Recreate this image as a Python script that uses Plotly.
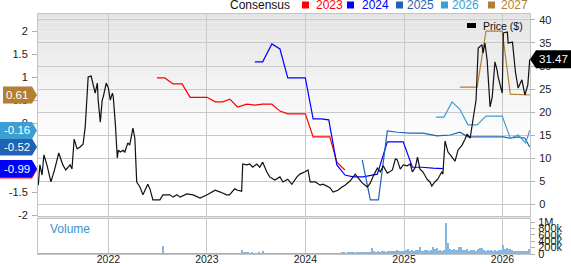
import plotly.graph_objects as go
import pandas as pd

# ---------------- data ----------------
price_dates = [
    "2021-04-16", "2021-04-22", "2021-04-30", "2021-05-07", "2021-05-18", "2021-06-02",
    "2021-06-16", "2021-07-01", "2021-07-16", "2021-07-27", "2021-08-12", "2021-08-19",
    "2021-08-27", "2021-09-07", "2021-09-18", "2021-09-29", "2021-10-07", "2021-10-14",
    "2021-10-18", "2021-10-29", "2021-11-06", "2021-11-13", "2021-11-21", "2021-11-24",
    "2021-12-02", "2021-12-09", "2021-12-13", "2021-12-24", "2022-01-01", "2022-01-08",
    "2022-01-16", "2022-01-19", "2022-01-27", "2022-02-03", "2022-02-07", "2022-02-14",
    "2022-02-24", "2022-03-03", "2022-03-14", "2022-03-21", "2022-04-02", "2022-04-09",
    "2022-04-16", "2022-04-28", "2022-05-09", "2022-05-24", "2022-05-27", "2022-06-04",
    "2022-06-15", "2022-06-30", "2022-07-11", "2022-07-22", "2022-08-17", "2022-08-29",
    "2022-09-12", "2022-09-24", "2022-10-19", "2022-11-11", "2022-12-07", "2023-01-02",
    "2023-02-01", "2023-02-20", "2023-03-15", "2023-03-26", "2023-04-14", "2023-04-25",
    "2023-05-10", "2023-05-14", "2023-05-29", "2023-06-09", "2023-06-20", "2023-07-05",
    "2023-07-16", "2023-07-27", "2023-08-11", "2023-08-22", "2023-09-10", "2023-09-29",
    "2023-10-10", "2023-10-28", "2023-11-12", "2023-12-01", "2023-12-12", "2023-12-31",
    "2024-01-11", "2024-01-19", "2024-02-07", "2024-02-25", "2024-03-06", "2024-03-21",
    "2024-04-02", "2024-04-13", "2024-05-01", "2024-05-16", "2024-05-27", "2024-06-15",
    "2024-07-04", "2024-07-15", "2024-07-30", "2024-08-18", "2024-08-29", "2024-09-09",
    "2024-09-24", "2024-10-05", "2024-10-16", "2024-10-31", "2024-11-19", "2024-11-30",
    "2024-12-07", "2024-12-18", "2024-12-29", "2025-01-13", "2025-01-24", "2025-02-01",
    "2025-02-12", "2025-02-20", "2025-03-01", "2025-03-12", "2025-03-27", "2025-04-07",
    "2025-04-14", "2025-04-25", "2025-05-06", "2025-05-21", "2025-05-25", "2025-06-02",
    "2025-06-13", "2025-06-28", "2025-07-09", "2025-07-20", "2025-08-04", "2025-08-15",
    "2025-08-23", "2025-09-03", "2025-09-11", "2025-09-18", "2025-09-25", "2025-10-03",
    "2025-10-17", "2025-10-21", "2025-10-28", "2025-11-05", "2025-11-16", "2025-11-24",
    "2025-12-04", "2025-12-12", "2025-12-16", "2025-12-31", "2026-01-04", "2026-01-19",
    "2026-01-22", "2026-02-07", "2026-02-18", "2026-02-28", "2026-03-14", "2026-03-25",
    "2026-04-05", "2026-04-12",
]
price_values = [
    4.1, 8.5, 6.3, 10.7, 8.5, 4.8,
    7.6, 11.1, 8.5, 7.4, 8.5, 7.6,
    14.1, 12.0, 12.4, 13.0, 16.7, 22.6,
    27.6, 27.8, 25.9, 24.1, 26.3, 22.6,
    17.8, 22.6, 23.3, 26.3, 25.2, 22.6,
    24.1, 23.3, 17.2, 10.0, 11.7, 11.3,
    11.7, 11.3, 13.3, 12.8, 16.5, 14.3,
    4.8, 3.7, 2.0, 4.1, 4.3, 3.3,
    0.9, 0.9, 0.9, 2.0, 2.0, 1.5,
    2.0, 1.5, 2.2, 2.0, 1.3, 2.0,
    3.0, 2.6, 2.0, 2.0, 3.3, 3.0,
    2.8, 8.7, 8.5, 8.7, 8.0, 8.7,
    8.0, 9.1, 7.0, 5.9, 5.2, 5.9,
    4.8, 5.4, 4.3, 5.9, 6.5, 7.0,
    7.4, 4.8, 4.8, 4.1, 4.3, 3.9,
    3.5, 2.6, 3.0, 3.7, 4.1, 5.0,
    6.5, 5.7, 4.6, 3.7, 4.6, 6.1,
    7.8, 7.0, 8.3, 6.7, 7.4, 9.8,
    9.6, 7.6, 8.5, 8.3, 8.7, 7.0,
    8.0, 10.2, 7.6, 7.0, 5.4, 4.8,
    3.9, 4.8, 5.4, 7.0, 6.5, 13.7,
    11.3, 10.2, 9.3, 11.7, 12.8, 14.1,
    15.2, 14.3, 17.2, 19.6, 22.6, 33.9,
    34.6, 32.8, 35.0, 31.3, 21.1, 23.3,
    30.9, 29.1, 27.6, 24.1, 37.2, 37.4,
    35.0, 35.2, 28.7, 25.2, 27.0, 23.7,
    25.9, 31.47,
]

eps2023_dates = ["2022-06-30", "2022-07-29", "2022-08-29", "2022-10-01", "2022-10-31", "2022-12-07",
                 "2023-01-02", "2023-02-01", "2023-03-01", "2023-03-27", "2023-04-25", "2023-05-29",
                 "2023-06-28", "2023-07-27", "2023-08-30", "2023-09-29", "2023-10-28", "2023-12-01",
                 "2024-01-01", "2024-01-30", "2024-03-02", "2024-04-01", "2024-04-27", "2024-05-27"]
eps2023_values = [0.98, 0.98, 0.85, 0.85, 0.56, 0.56,
                  0.56, 0.46, 0.46, 0.52, 0.35, 0.41,
                  0.39, 0.41, 0.41, 0.26, 0.20, 0.20,
                  0.20, -0.30, -0.30, -0.30, -0.85, -1.02]

eps2024_dates = ["2023-06-28", "2023-07-27", "2023-08-30", "2023-09-29", "2023-10-28", "2023-12-01",
                 "2024-01-01", "2024-01-30", "2024-02-28", "2024-03-28", "2024-04-27", "2024-05-27",
                 "2024-06-26", "2024-08-02", "2024-09-24", "2024-10-31", "2024-11-30", "2024-12-29",
                 "2025-02-01", "2025-03-08", "2025-04-18", "2025-05-25"]
eps2024_values = [1.33, 1.33, 1.72, 1.61, 0.98, 0.98,
                  0.98, 0.09, 0.09, 0.07, -0.91, -1.13,
                  -1.17, -1.17, -1.11, -0.41, -0.41, -0.41,
                  -0.96, -0.96, -0.98, -0.99]

eps2025_dates = ["2024-07-30", "2024-08-29", "2024-09-28", "2024-10-31", "2024-12-07", "2025-01-24",
                 "2025-03-12", "2025-05-03", "2025-06-21", "2025-07-27", "2025-08-26", "2025-11-05",
                 "2026-01-04", "2026-01-30", "2026-02-28", "2026-03-25", "2026-04-12"]
eps2025_values = [-0.80, -1.67, -1.67, -0.17, -0.20, -0.22,
                  -0.22, -0.28, -0.26, -0.20, -0.30, -0.30,
                  -0.30, -0.33, -0.30, -0.33, -0.52]

eps2026_dates = ["2025-04-29", "2025-05-29", "2025-06-28", "2025-07-27", "2025-08-26", "2025-09-29",
                 "2025-11-01", "2025-12-31", "2026-01-30", "2026-02-28", "2026-03-28", "2026-04-12"]
eps2026_values = [0.13, 0.13, 0.46, 0.30, -0.04, -0.04,
                  0.15, 0.15, -0.33, -0.26, -0.43, -0.16]

eps2027_dates = ["2025-07-27", "2025-09-29", "2025-11-01", "2025-12-31", "2026-01-30", "2026-04-12"]
eps2027_values = [0.78, 0.78, 2.00, 2.00, 0.63, 0.61]

# weekly volume (thousands of shares), weeks ending Friday from 2021-04-16
volume_start = "2021-04-16"
volume_k = [
    # 2021 (Apr-Dec)
    3, 4, 2, 3, 5, 3, 2, 4, 3, 2, 3, 4, 2, 3, 3, 2, 4, 3, 2, 3,
    5, 4, 6, 5, 4, 3, 5, 4, 3, 4, 3, 5, 4, 3, 4, 3, 2, 3,
    # 2022
    4, 5, 3, 6, 4, 5, 7, 5, 4, 6, 5, 8, 6, 5, 7, 6, 10, 12, 9, 8,
    7, 9, 8, 10, 12, 9, 8, 9, 255, 20, 12, 10, 8, 9, 7, 8, 10, 9, 8, 7,
    9, 8, 10, 7, 8, 9, 7, 8, 9, 8, 10, 12,
    # 2023
    10, 12, 15, 12, 10, 14, 12, 15, 13, 12, 16, 14, 12, 15, 13, 18, 15, 20,
    130, 35, 40, 45, 30, 55, 30, 25, 28, 35, 30, 90, 25, 20, 22, 25, 18, 20,
    22, 18, 25, 20, 22, 18, 20, 25, 22, 18, 20, 25, 22, 20, 18, 22,
    # 2024
    20, 15, 25, 18, 30, 22, 15, 20, 25, 18, 20, 15, 22, 30, 18, 20, 25, 15, 20,
    35, 45, 30, 50, 40, 35, 45, 30, 40, 35, 50, 45, 40, 35, 45, 50,
    185,
    80, 70, 90, 75, 100, 85, 70, 95, 110, 80, 100, 90, 120, 105, 95, 110,
    # 2025
    110, 120, 155, 100, 120, 110, 130, 120, 225, 110, 100, 130, 120, 110, 125, 215,
    150, 200, 110, 120, 100, 130, 980, 340, 150, 130, 150, 120, 140, 235, 230, 140,
    120, 150, 110, 130, 140, 120, 110, 160, 190, 180, 120, 110, 130, 100, 120, 110,
    130, 100, 115, 120,
    # 2026
    275, 160, 185, 170, 150, 120, 100, 110, 95, 105, 100, 90, 110, 95, 150,
]

year_ticks = ["2022-01-01", "2023-01-01", "2024-01-01", "2025-01-01", "2026-01-01"]
year_labels = ["2022", "2023", "2024", "2025", "2026"]
eps_ticks = [-2, -1.5, -1, -0.5, 0, 0.5, 1, 1.5, 2]
eps_tick_labels = ["-2", "-1.5", "-1", "-0.5", "0", "0.5", "1", "1.5", "2"]
price_ticks = [0, 5, 10, 15, 20, 25, 30, 35, 40]
vol_ticks = [0, 200000, 400000, 600000, 800000, 1000000]
vol_tick_labels = ["0", "200k", "400k", "600k", "800k", "1M"]

series = [
    ("2023", eps2023_dates, eps2023_values, "#ff0000"),
    ("2024", eps2024_dates, eps2024_values, "#0000ff"),
    ("2025", eps2025_dates, eps2025_values, "#1f63b4"),
    ("2026", eps2026_dates, eps2026_values, "#3c9ed3"),
    ("2027", eps2027_dates, eps2027_values, "#b27f33"),
]

# ---------------- figure ----------------
W, H = 571, 264
ML, MR, MT, MB = 38, 41, 14, 10
PW, PH = W - ML - MR, H - MT - MB
FONT = "Arial, 'Liberation Sans', sans-serif"


def px(x):
    return (x - ML) / PW


def py(y):
    return (H - MB - y) / PH


main_dom = [py(216), 1.0]
vol_dom = [0.0, py(219)]

fig = go.Figure()

vol_dates = pd.date_range(volume_start, periods=len(volume_k), freq="W-FRI")
fig.add_trace(go.Bar(
    x=vol_dates, y=[v * 1000 for v in volume_k], xaxis="x2", yaxis="y3",
    marker=dict(color="#86b7e0", line=dict(width=0)), width=3.6 * 86400000,
    showlegend=False, hoverinfo="skip"))

for name, d, v, c in series:
    fig.add_trace(go.Scatter(x=d, y=v, mode="lines", line=dict(color=c, width=1.2),
                             xaxis="x", yaxis="y", showlegend=False, name=name))

fig.add_trace(go.Scatter(x=price_dates, y=price_values, mode="lines",
                         line=dict(color="#111111", width=1.2),
                         xaxis="x", yaxis="y2", showlegend=False, name="Price"))

xrange = ["2021-04-15", "2026-04-13"]
grid = "#c9c9c9"
frame = "#c4c4c4"
tickfont = dict(family=FONT, size=11, color="#222222")

fig.update_layout(
    width=W, height=H,
    margin=dict(l=ML, r=MR, t=MT, b=MB, pad=0, autoexpand=False),
    paper_bgcolor="white", plot_bgcolor="white",
    font=dict(family=FONT),
    bargap=0,
    xaxis=dict(domain=[0, 1], anchor="y", range=xrange, type="date",
               tickvals=year_ticks, showticklabels=False, showgrid=True,
               gridcolor=grid, gridwidth=1, showline=True, mirror=True,
               linecolor=frame, zeroline=False, ticks="", automargin=False),
    xaxis2=dict(domain=[0, 1], anchor="y3", range=xrange, type="date",
                matches="x", tickvals=year_ticks, ticktext=year_labels,
                showgrid=True, gridcolor=grid, gridwidth=1, showline=True,
                mirror=True, linecolor=frame, ticks="",
                tickfont=dict(family=FONT, size=10.5, color="#222222"),
                automargin=False, ticklabelstandoff=-5),
    yaxis=dict(domain=main_dom, anchor="x", range=[-2.02, 2.37],
               tickvals=eps_ticks, ticktext=eps_tick_labels, showgrid=False,
               zeroline=False, showline=True, linecolor=frame,
               ticks="outside", ticklen=5, tickcolor="#b0b0b0",
               tickfont=tickfont, ticklabelstandoff=2, automargin=False),
    yaxis2=dict(domain=main_dom, anchor="x", overlaying="y", side="right",
                range=[-2.6, 41.3], tickvals=price_ticks, showgrid=True,
                gridcolor=grid, gridwidth=1, zeroline=False, showline=True,
                linecolor=frame, ticks="outside", ticklen=4,
                tickcolor="#b0b0b0", tickfont=tickfont, ticklabelstandoff=2,
                automargin=False),
    yaxis3=dict(domain=vol_dom, anchor="x2", side="right", range=[0, 1.1e6],
                tickvals=vol_ticks, ticktext=vol_tick_labels, showgrid=False,
                zeroline=False, showline=True, mirror=True, linecolor=frame,
                ticks="outside", ticklen=4, tickcolor="#b0b0b0",
                tickfont=dict(family=FONT, size=11, color="#222222"),
                ticklabelstandoff=1, automargin=False),
)

shapes = []
# gradient background in the main pane
N = 30
for i in range(N):
    f0 = 0.35 + 0.65 * i / N
    f1 = 0.35 + 0.65 * (i + 1) / N
    t = (i + 0.5) / N
    g = int(round(255 - (255 - 228) * t))
    shapes.append(dict(type="rect", xref="x domain", yref="y domain",
                       x0=0, x1=1, y0=f0, y1=f1, fillcolor=f"rgb({g},{g},{g})",
                       line=dict(width=0), layer="below"))
# separator band between panes
shapes.append(dict(type="rect", xref="paper", yref="paper", x0=0, x1=1,
                   y0=vol_dom[1], y1=main_dom[0], fillcolor="#e2e2e2",
                   line=dict(width=0), layer="below"))

annotations = []

# left-side last-value badges
badges = [
    (eps2023_values[-1], "#ff0000", "-1.02", False),
    (eps2024_values[-1], "#0000ff", "-0.99", True),
    (eps2025_values[-1], "#1f63b4", "-0.52", True),
    (eps2026_values[-1], "#3c9ed3", "-0.16", True),
    (eps2027_values[-1], "#b27f33", "0.61", True),
]
for val, col, txt, show_text in badges:
    left = -38 if txt.startswith("-") else -35
    shapes.append(dict(type="path", xref="paper", xsizemode="pixel", xanchor=0,
                       yref="y", ysizemode="pixel", yanchor=val,
                       path=f"M {left},8.5 L -6,8.5 L -1,0 L -6,-8.5 L {left},-8.5 Z",
                       fillcolor=col, line=dict(width=0), layer="above"))
    if show_text:
        annotations.append(dict(xref="paper", x=0, xshift=-21, xanchor="center",
                                yref="y", y=val, yanchor="middle", text=txt,
                                showarrow=False,
                                font=dict(family=FONT, size=11.5, color="white")))

# right-side price badge
last_price = price_values[-1]
shapes.append(dict(type="path", xref="paper", xsizemode="pixel", xanchor=1,
                   yref="y2", ysizemode="pixel", yanchor=last_price,
                   path="M 0,0 L 6,9 L 41,9 L 41,-9 L 6,-9 Z",
                   fillcolor="#000000", line=dict(width=0), layer="above"))
annotations.append(dict(xref="paper", x=1, xshift=23, xanchor="center",
                        yref="y2", y=last_price, yanchor="middle",
                        text=f"{last_price:.2f}", showarrow=False,
                        font=dict(family=FONT, size=11.5, color="white")))

# top legend
annotations.append(dict(xref="paper", yref="paper", x=px(228), y=py(5),
                        xanchor="left", yanchor="middle", text="Consensus",
                        showarrow=False, font=dict(family=FONT, size=12, color="#111111")))
leg_pos = [(302, 314), (347, 360), (396, 405), (441, 450), (488, 499)]
for (name, d, v, c), (sx, tx) in zip(series, leg_pos):
    shapes.append(dict(type="rect", xref="paper", yref="paper",
                       x0=px(sx), x1=px(sx + 7), y0=py(8.5), y1=py(1.5),
                       fillcolor=c, line=dict(width=0)))
    annotations.append(dict(xref="paper", yref="paper", x=px(tx), y=py(5),
                            xanchor="left", yanchor="middle", text=name,
                            showarrow=False, font=dict(family=FONT, size=12, color=c)))

# price legend inside plot
shapes.append(dict(type="rect", xref="paper", yref="paper",
                   x0=px(467), x1=px(476), y0=py(28), y1=py(23),
                   fillcolor="#000000", line=dict(width=0)))
annotations.append(dict(xref="paper", yref="paper", x=px(481), y=py(25.5),
                        xanchor="left", yanchor="middle", text="Price ($)",
                        showarrow=False, font=dict(family=FONT, size=10.5, color="#111111")))

# volume label
annotations.append(dict(xref="paper", yref="paper", x=px(48), y=py(229),
                        xanchor="left", yanchor="middle", text="Volume",
                        showarrow=False, font=dict(family=FONT, size=12, color="#3b8fd1")))

fig.update_layout(shapes=shapes, annotations=annotations)
fig.write_html("out.html")
